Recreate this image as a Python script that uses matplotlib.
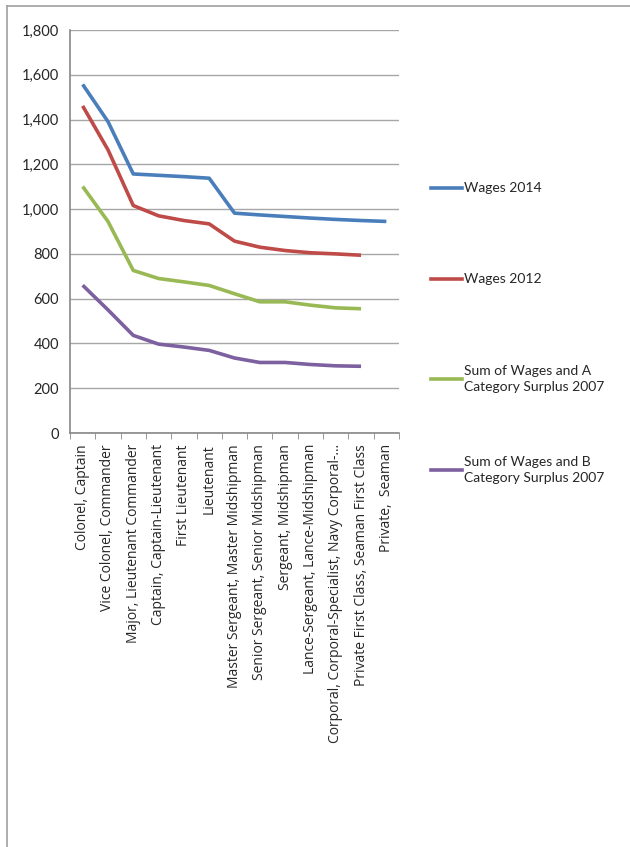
import numpy as np
import matplotlib.pyplot as plt
from matplotlib.lines import Line2D
from matplotlib.ticker import FuncFormatter, MultipleLocator

ranks = [
    "Colonel, Captain",
    "Vice Colonel, Commander",
    "Major, Lieutenant Commander",
    "Captain, Captain-Lieutenant",
    "First Lieutenant",
    "Lieutenant",
    "Master Sergeant, Master Midshipman",
    "Senior Sergeant, Senior Midshipman",
    "Sergeant, Midshipman",
    "Lance-Sergeant, Lance-Midshipman",
    "Corporal, Corporal-Specialist, Navy Corporal-…",
    "Private First Class, Seaman First Class",
    "Private,  Seaman",
]

wages_2014 = [1557, 1391, 1157, 1151, 1145, 1138, 982, 974, 967, 960, 954, 949, 945]
wages_2012 = [1461, 1265, 1016, 970, 949, 934, 857, 830, 815, 805, 800, 794]
surplus_a_2007 = [1101, 945, 726, 690, 675, 659, 622, 586, 586, 571, 559, 555]
surplus_b_2007 = [660, 550, 436, 397, 384, 369, 335, 315, 315, 306, 300, 298]

series = [
    ("Wages 2014", wages_2014, "#4a7ebb"),
    ("Wages 2012", wages_2012, "#be4b48"),
    ("Sum of Wages and A\nCategory Surplus 2007", surplus_a_2007, "#98b954"),
    ("Sum of Wages and B\nCategory Surplus 2007", surplus_b_2007, "#7d60a0"),
]

plt.rcParams['font.family'] = ['Lato', 'DejaVu Sans']

W, H = 630, 847
fig = plt.figure(figsize=(W / 100, H / 100), dpi=100)
ax = fig.add_axes([70 / W, 1 - 433 / H, (399 - 70) / W, (433 - 30) / H])

for name, vals, col in series:
    ax.plot(np.arange(len(vals)), vals, color=col, lw=2.6, solid_capstyle='butt')

ax.set_xlim(-0.5, len(ranks) - 0.5)
ax.set_ylim(0, 1800)
ax.yaxis.set_major_locator(MultipleLocator(200))
ax.yaxis.set_major_formatter(FuncFormatter(lambda v, p: f"{int(v):,}"))
ax.grid(axis='y', color='#a6a6a6', lw=1.0)
ax.set_axisbelow(True)

ax.set_xticks(np.arange(len(ranks)))
ax.set_xticklabels(ranks, rotation=90, fontsize=10, color='#262626',
                   family=['Open Sans', 'DejaVu Sans'])
ax.tick_params(axis='x', length=0, pad=8)
ax.set_xticks(np.arange(len(ranks) + 1) - 0.5, minor=True)
ax.tick_params(axis='x', which='minor', length=4, color='#888888', direction='out')
ax.tick_params(axis='y', length=0, pad=8, labelsize=10.5, labelcolor='#262626')

for s in ['top', 'right']:
    ax.spines[s].set_visible(False)
ax.spines['left'].set_color('#888888')
ax.spines['bottom'].set_color('#888888')
ax.spines['left'].set_linewidth(1.2)
ax.spines['bottom'].set_linewidth(1.2)

# legend entries spaced down the right side
legend_y = [188, 279, 379, 470]
for (name, vals, col), ly in zip(series, legend_y):
    fig.add_artist(Line2D([431 / W, 462 / W], [1 - ly / H, 1 - ly / H],
                          color=col, lw=2.6, transform=fig.transFigure))
    fig.text(464 / W, 1 - ly / H, name, fontsize=10, color='#262626',
             va='center', ha='left', linespacing=1.45)

# outer frame
fig.add_artist(Line2D([7 / W, 1], [1 - 6 / H, 1 - 6 / H], color='#a0a0a0', lw=1.2,
                      transform=fig.transFigure))
fig.add_artist(Line2D([7 / W, 7 / W], [1 - 6 / H, 0], color='#a0a0a0', lw=1.2,
                      transform=fig.transFigure))

fig.savefig("out.png", dpi=100)
